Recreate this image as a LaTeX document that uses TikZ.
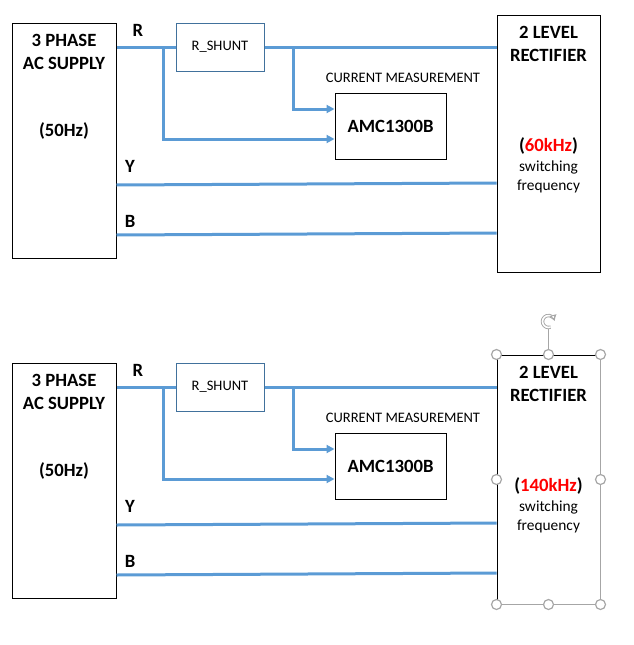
\documentclass[tikz,border=0pt]{standalone}
\usepackage{fontspec}
\setmainfont{Carlito}
\usepackage{xcolor}
\usepackage{tikz}
\usetikzlibrary{arrows.meta}
\definecolor{wireblue}{HTML}{5B9BD5}
\definecolor{shuntedge}{HTML}{41719C}
\definecolor{handlegray}{HTML}{A6A6A6}
\newcommand{\bigbf}{\fontsize{18.7}{23}\selectfont\bfseries}
\newcommand{\smtxt}{\fontsize{14.5}{19}\selectfont}
\newcommand{\swtxt}{\fontsize{15.4}{19}\selectfont}

\begin{document}
\begin{tikzpicture}[x=1pt,y=-1pt,>={Triangle[length=8pt,width=8pt]},
blk/.style={draw,line width=1pt,inner sep=0pt},
wire/.style={wireblue,line width=3pt},
hdl/.style={circle,draw=handlegray,fill=white,line width=1.2pt,minimum size=10pt,inner sep=0pt}]
\useasboundingbox (0,0) rectangle (634,645);
\foreach \o/\h/\f in {0/257/60,340/249/140}{
\begin{scope}[shift={(0,\o)}]
\node[blk,minimum width=104pt,minimum height=235pt] (sup\o) at (64,140.5) {};
\node[blk,draw=shuntedge,minimum width=88pt,minimum height=48pt,font=\smtxt] (shunt\o) at (220,47) {R\_SHUNT};
\node[blk,minimum width=111pt,minimum height=66pt,font=\bigbf] (amc\o) at (390.5,126) {AMC1300B};
\node[blk,minimum width=103pt,minimum height=\h pt] (rect\o) at (548.5,{15+\h/2}) {};
\node[align=center,font=\bigbf] (supt\o) at (64,51.5) {3 PHASE\\AC SUPPLY};
\node[font=\bigbf] (hz\o) at (64,131) {(50Hz)};
\node[font=\bigbf] (r\o) at (138,30) {R};
\node[font=\bigbf] (y\o) at (130,166) {Y};
\node[font=\bigbf] (b\o) at (130,221) {B};
\node[font=\smtxt] (cm\o) at (403,78) {CURRENT MEASUREMENT};
\node[align=center,font=\bigbf] (rt\o) at (548.5,43.5) {2 LEVEL\\RECTIFIER};
\node[font=\bigbf] (fq\o) at (548.5,146) {(\textcolor{red}{\f kHz})};
\node[align=center,font=\swtxt] (sw\o) at (548.5,176.5) {switching\\frequency};
\coordinate (ja\o) at (163,47);
\coordinate (jb\o) at (293,47);
\draw[wire](sup\o.east |- shunt\o.west)--(shunt\o.west);
\draw[wire](shunt\o.east)--(rect\o.west |- shunt\o.east);
\draw[wire,->](ja\o)|-([yshift=-13pt]amc\o.west);
\draw[wire,->](jb\o)|-([yshift=17pt]amc\o.west);
\draw[wire](sup\o.east |- 0,185)--(rect\o.west |- 0,183);
\draw[wire](sup\o.east |- 0,235)--(rect\o.west |- 0,233);
\end{scope}}
\draw[handlegray,line width=1.2pt](rect340.north east)--(rect340.south east)--(rect340.south west);
\foreach \a/\n in {north west/1,north/2,north east/3,west/4,east/5,south west/6,south/7,south east/8}
\node[hdl] (hd\n) at (rect340.\a) {};
\coordinate (rot) at ([yshift=33pt]rect340.north);
\draw[handlegray,line width=1.2pt](hd2)--([yshift=-7pt]rot);
\draw[handlegray,double=white,double distance=1.6pt,line width=0.9pt,-{Triangle[open,length=5pt,width=7pt]}]([shift={(290:6pt)}]rot) arc[start angle=290,end angle=15,radius=6pt];
\end{tikzpicture}
\end{document}
